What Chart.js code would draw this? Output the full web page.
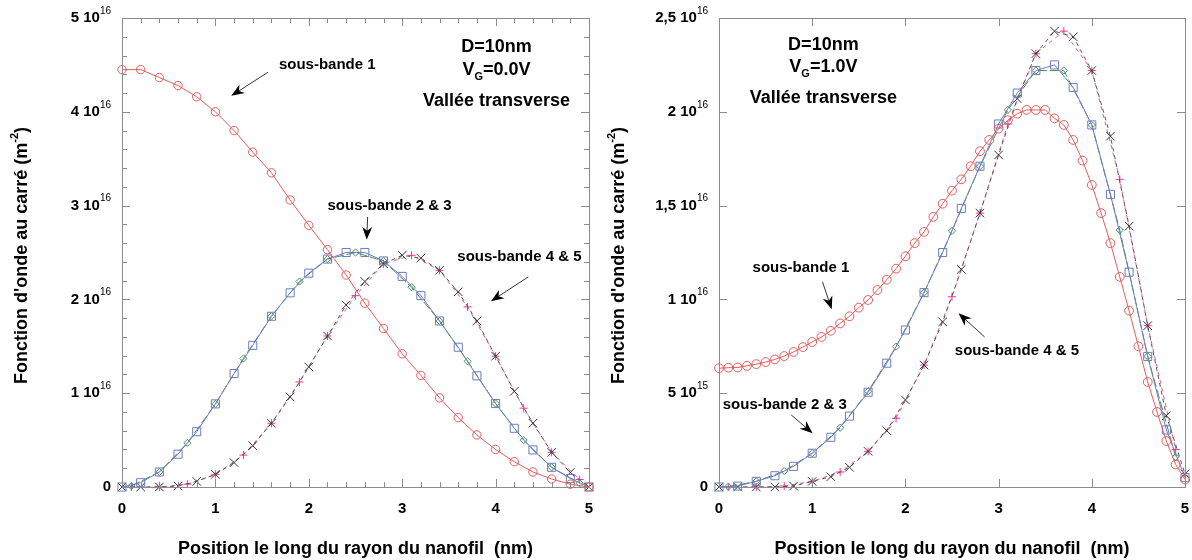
<!DOCTYPE html>
<html>
<head>
<meta charset="utf-8">
<script src="https://cdn.jsdelivr.net/npm/chart.js@4.4.0/dist/chart.umd.min.js"></script>
<style>
  html, body { margin: 0; padding: 0; background: #fff; }
  .panel { position: absolute; top: 0; width: 596px; height: 560px; }
</style>
</head>
<body>
<div class="panel" style="left:0"><canvas id="chart-vg0" width="596" height="560"></canvas></div>
<div class="panel" style="left:596px"><canvas id="chart-vg1" width="596" height="560"></canvas></div>
<script>
/** Positions along the radius (nm) */
const xStep01 = [0, 0.1, 0.2, 0.3, 0.4, 0.5, 0.6, 0.7, 0.8, 0.9, 1, 1.1, 1.2, 1.3, 1.4, 1.5, 1.6, 1.7, 1.8, 1.9,
  2, 2.1, 2.2, 2.3, 2.4, 2.5, 2.6, 2.7, 2.8, 2.9, 3, 3.1, 3.2, 3.3, 3.4, 3.5, 3.6, 3.7, 3.8, 3.9,
  4, 4.1, 4.2, 4.3, 4.4, 4.5, 4.6, 4.7, 4.8, 4.9, 5];
const xStep02 = [0, 0.2, 0.4, 0.6, 0.8, 1, 1.2, 1.4, 1.6, 1.8, 2, 2.2, 2.4, 2.6, 2.8, 3, 3.2, 3.4, 3.6, 3.8,
  4, 4.2, 4.4, 4.6, 4.8, 5];
const xStep03 = [0.1, 0.4, 0.7, 1, 1.3, 1.6, 1.9, 2.2, 2.5, 2.8, 3.1, 3.4, 3.7, 4, 4.3, 4.6, 4.9];

/** VG = 0.0 V, squared wave function in units of 1e16 m^-2 */
const vg0Band1 = [4.45, 4.45, 4.365, 4.28, 4.16, 4.0, 3.80, 3.57, 3.35, 3.06, 2.79, 2.53, 2.26, 1.96, 1.69,
  1.42, 1.19, 0.95, 0.74, 0.555, 0.40, 0.27, 0.16, 0.085, 0.03, 0];
const vg0Band2 = [0, 0.046, 0.16, 0.35, 0.59, 0.886, 1.21, 1.51, 1.82, 2.07, 2.28, 2.43, 2.50, 2.50, 2.41,
  2.245, 2.04, 1.77, 1.49, 1.185, 0.89, 0.626, 0.395, 0.21, 0.09, 0];
const vg0Band3 = [0.01, 0.16, 0.47, 0.886, 1.37, 1.82, 2.19, 2.43, 2.50, 2.41, 2.13, 1.77, 1.34, 0.89, 0.50,
  0.21, 0.04];
const vg0Band4 = [0, 0, 0, 0.01, 0.06, 0.135, 0.26, 0.44, 0.68, 0.96, 1.28, 1.61, 1.94, 2.19, 2.38, 2.47,
  2.44, 2.31, 2.08, 1.77, 1.395, 1.02, 0.68, 0.37, 0.155, 0];
const vg0Band5 = [0, 0, 0.03, 0.135, 0.34, 0.68, 1.12, 1.61, 2.04, 2.38, 2.47, 2.31, 1.92, 1.395, 0.84,
  0.37, 0.08];

/** VG = 1.0 V, squared wave function in units of 1e16 m^-2 */
const vg1Band1 = [0.633, 0.636, 0.637, 0.646, 0.655, 0.666, 0.68, 0.698, 0.72, 0.746, 0.773, 0.80, 0.833,
  0.872, 0.91, 0.956, 0.997, 1.05, 1.105, 1.164, 1.23, 1.30, 1.36, 1.44, 1.51, 1.58, 1.64, 1.71, 1.79,
  1.85, 1.91, 1.955, 1.99, 2.01, 2.01, 2.01, 1.965, 1.93, 1.85, 1.74, 1.61, 1.46, 1.30, 1.12, 0.94, 0.75,
  0.56, 0.40, 0.245, 0.12, 0.04];
const vg1Band2 = [0, 0.005, 0.03, 0.06, 0.11, 0.18, 0.265, 0.378, 0.505, 0.66, 0.837, 1.036, 1.25, 1.485,
  1.71, 1.935, 2.10, 2.22, 2.25, 2.13, 1.93, 1.56, 1.145, 0.696, 0.304, 0.05];
const vg1Band3 = [0.002, 0.03, 0.085, 0.18, 0.316, 0.51, 0.748, 1.036, 1.365, 1.71, 2.01, 2.22, 2.22, 1.93,
  1.37, 0.696, 0.16];
const vg1Band4 = [0, 0, 0, 0, 0.005, 0.03, 0.055, 0.105, 0.19, 0.30, 0.464, 0.65, 0.88, 1.16, 1.46, 1.77,
  2.07, 2.31, 2.43, 2.40, 2.22, 1.87, 1.39, 0.86, 0.38, 0.07];
const vg1Band5 = [0, 0, 0.005, 0.03, 0.08, 0.19, 0.366, 0.65, 1.014, 1.46, 1.935, 2.31, 2.43, 2.22, 1.64,
  0.86, 0.20];

/** Tick values and labels ('^' marks the exponent) */
const xTickValues = [0, 1, 2, 3, 4, 5];
const xTickLabels = ['0', '1', '2', '3', '4', '5'];
const vg0YTickValues = [0, 1, 2, 3, 4, 5];
const vg0YTickLabels = ['0', '1 10^16', '2 10^16', '3 10^16', '4 10^16', '5 10^16'];
const vg1YTickValues = [0, 0.5, 1, 1.5, 2, 2.5];
const vg1YTickLabels = ['0', '5 10^15', '1 10^16', '1,5 10^16', '2 10^16', '2,5 10^16'];

const FONT = '"Liberation Sans", Arial, Helvetica, sans-serif';
const bold = (size) => `bold ${size}px ${FONT}`;

/** Draw a row of text pieces (different fonts / vertical offsets) */
const drawRich = (ctx, parts, x, y, align) => {
  let total = 0;
  parts.forEach(p => {
    ctx.font = p.font;
    p.w = ctx.measureText(p.text).width;
    total += p.w;
  });
  let cx = align === 'right' ? x - total : (align === 'center' ? x - total / 2 : x);
  ctx.textAlign = 'left';
  ctx.textBaseline = 'middle';
  parts.forEach(p => {
    ctx.font = p.font;
    ctx.fillText(p.text, cx, y + (p.dy || 0));
    cx += p.w;
  });
};

const powerParts = (label) => {
  const [base, exp] = label.split('^');
  const parts = [{text: base, font: bold(15)}];
  if (exp) parts.push({text: exp, font: `10px ${FONT}`, dy: -7});
  return parts;
};

const drawArrow = (ctx, x1, y1, x2, y2) => {
  const ang = Math.atan2(y2 - y1, x2 - x1);
  const len = 13, half = 5;
  ctx.strokeStyle = '#333';
  ctx.lineWidth = 1;
  ctx.beginPath();
  ctx.moveTo(x1, y1);
  ctx.lineTo(x2 - Math.cos(ang) * len * 0.6, y2 - Math.sin(ang) * len * 0.6);
  ctx.stroke();
  ctx.save();
  ctx.translate(x2, y2);
  ctx.rotate(ang);
  ctx.fillStyle = '#000';
  ctx.beginPath();
  ctx.moveTo(0, 0);
  ctx.lineTo(-len, -half);
  ctx.lineTo(-len * 0.7, 0);
  ctx.lineTo(-len, half);
  ctx.closePath();
  ctx.fill();
  ctx.restore();
};

/** Plugin: frame, inward ticks, labels, titles and annotations */
const framePlugin = {
  id: 'frame',
  afterDatasetsDraw(chart, args, opts) {
    const {ctx, chartArea: a, scales: {x, y}} = chart;
    ctx.save();
    ctx.strokeStyle = '#8c8c8c';
    ctx.lineWidth = 1;
    ctx.strokeRect(a.left + 0.5, a.top + 0.5, a.right - a.left, a.bottom - a.top);

    const tick = (px, horizontal, len) => {
      ctx.beginPath();
      if (horizontal) {
        const p = Math.round(px) + 0.5;
        ctx.moveTo(p, a.bottom); ctx.lineTo(p, a.bottom - len);
        ctx.moveTo(p, a.top); ctx.lineTo(p, a.top + len);
      } else {
        const p = Math.round(px) + 0.5;
        ctx.moveTo(a.left, p); ctx.lineTo(a.left + len, p);
        ctx.moveTo(a.right, p); ctx.lineTo(a.right - len, p);
      }
      ctx.stroke();
    };
    if (opts.minorX) {
      for (let v = x.min; v <= x.max + 1e-9; v += opts.minorX) tick(x.getPixelForValue(v), true, 5);
    }
    if (opts.minorY) {
      for (let v = y.min; v <= y.max + 1e-9; v += opts.minorY) tick(y.getPixelForValue(v), false, 5);
    }
    opts.xTicks.forEach(v => tick(x.getPixelForValue(v), true, 8));
    opts.yTicks.forEach(v => tick(y.getPixelForValue(v), false, 8));

    ctx.fillStyle = '#000';
    opts.xTicks.forEach((v, i) => {
      drawRich(ctx, [{text: opts.xLabels[i], font: bold(15)}], x.getPixelForValue(v), a.bottom + 22, 'center');
    });
    opts.yTicks.forEach((v, i) => {
      drawRich(ctx, powerParts(opts.yLabels[i]), a.left - 11, y.getPixelForValue(v), 'right');
    });

    // axis titles
    drawRich(ctx, [{text: 'Position le long du rayon du nanofil  (nm)', font: bold(18)}],
      (a.left + a.right) / 2, a.bottom + 62, 'center');
    ctx.save();
    ctx.translate(a.left - 100, (a.top + a.bottom) / 2 + 3);
    ctx.rotate(-Math.PI / 2);
    drawRich(ctx, [
      {text: 'Fonction d\'onde au carré (m', font: bold(18)},
      {text: '-2', font: bold(11), dy: -7},
      {text: ')', font: bold(18)},
    ], 0, 0, 'center');
    ctx.restore();

    // annotations
    opts.notes.forEach(n => {
      drawRich(ctx, n.parts, x.getPixelForValue(n.x), y.getPixelForValue(n.y), n.align);
    });
    opts.arrows.forEach(ar => {
      drawArrow(ctx, x.getPixelForValue(ar[0]), y.getPixelForValue(ar[1]),
        x.getPixelForValue(ar[2]), y.getPixelForValue(ar[3]));
    });
    ctx.restore();
  }
};

const makeSeries = (xs, ys, style) => Object.assign({
  data: xs.map((v, i) => ({x: v, y: ys[i]})),
  showLine: true,
  borderWidth: 1,
  pointBorderWidth: 1,
  pointBackgroundColor: 'rgba(0,0,0,0)',
  clip: false,
}, style);

const bandStyles = {
  band1: {borderColor: '#e45c5c', pointBorderColor: '#e45c5c', pointStyle: 'circle'},
  band2: {borderColor: '#6c7cc0', pointBorderColor: '#6c7cc0', pointStyle: 'rect', pointRadius: 5.7},
  band3: {borderColor: '#4b8a5e', pointBorderColor: '#4b8a5e', pointStyle: 'rectRot', pointRadius: 3.6, borderDash: [9, 3]},
  band4: {borderColor: '#555555', pointBorderColor: '#333333', pointStyle: 'crossRot', pointRadius: 6, borderDash: [4, 4]},
  band5: {borderColor: '#e8559e', pointBorderColor: '#f0359a', pointStyle: 'cross', pointRadius: 4, borderDash: [4, 4]},
};

const vTitle = (vg) => [
  {text: 'V', font: bold(18)},
  {text: 'G', font: bold(11), dy: 7},
  {text: '=' + vg, font: bold(18)},
];

const createChart = (canvasId, series, yMax, frameOpts, padRight, padLeft) => {
  new Chart(document.getElementById(canvasId), {
    type: 'scatter',
    data: {datasets: series},
    plugins: [framePlugin],
    options: {
      responsive: false,
      animation: false,
      layout: {padding: {left: padLeft, right: padRight, top: 18, bottom: 73}},
      scales: {
        x: {type: 'linear', min: 0, max: 5, display: false},
        y: {type: 'linear', min: 0, max: yMax, display: false},
      },
      plugins: {
        legend: {display: false},
        tooltip: {enabled: false},
        frame: frameOpts,
      },
    },
  });
};

createChart('chart-vg0', [
  makeSeries(xStep02, vg0Band1, Object.assign({pointRadius: 4.2}, bandStyles.band1)),
  makeSeries(xStep02, vg0Band2, bandStyles.band2),
  makeSeries(xStep03, vg0Band3, bandStyles.band3),
  makeSeries(xStep02, vg0Band4, bandStyles.band4),
  makeSeries(xStep03, vg0Band5, bandStyles.band5),
], 5, {
  xTicks: xTickValues, xLabels: xTickLabels,
  yTicks: vg0YTickValues, yLabels: vg0YTickLabels,
  minorX: 0.2, minorY: 0.2,
  notes: [
    {parts: [{text: 'D=10nm', font: bold(18)}], x: 4.01, y: 4.69, align: 'center'},
    {parts: vTitle('0.0V'), x: 4.01, y: 4.45, align: 'center'},
    {parts: [{text: 'Vallée transverse', font: bold(18)}], x: 4.01, y: 4.12, align: 'center'},
    {parts: [{text: 'sous-bande 1', font: bold(15)}], x: 1.68, y: 4.50, align: 'left'},
    {parts: [{text: 'sous-bande 2 & 3', font: bold(15)}], x: 2.2, y: 3.0, align: 'left'},
    {parts: [{text: 'sous-bande 4 & 5', font: bold(15)}], x: 3.59, y: 2.45, align: 'left'},
  ],
  arrows: [
    [1.56, 4.42, 1.17, 4.17],
    [2.63, 2.88, 2.62, 2.635],
    [4.35, 2.24, 3.95, 1.98],
  ],
}, 5, 122);

createChart('chart-vg1', [
  makeSeries(xStep01, vg1Band1, Object.assign({pointRadius: 4.4}, bandStyles.band1)),
  makeSeries(xStep02, vg1Band2, bandStyles.band2),
  makeSeries(xStep03, vg1Band3, bandStyles.band3),
  makeSeries(xStep02, vg1Band4, bandStyles.band4),
  makeSeries(xStep03, vg1Band5, bandStyles.band5),
], 2.5, {
  xTicks: xTickValues, xLabels: xTickLabels,
  yTicks: vg1YTickValues, yLabels: vg1YTickLabels,
  notes: [
    {parts: [{text: 'D=10nm', font: bold(18)}], x: 1.12, y: 2.355, align: 'center'},
    {parts: vTitle('1.0V'), x: 1.12, y: 2.24, align: 'center'},
    {parts: [{text: 'Vallée transverse', font: bold(18)}], x: 1.12, y: 2.076, align: 'center'},
    {parts: [{text: 'sous-bande 1', font: bold(15)}], x: 0.36, y: 1.166, align: 'left'},
    {parts: [{text: 'sous-bande 2 & 3', font: bold(15)}], x: 0.04, y: 0.437, align: 'left'},
    {parts: [{text: 'sous-bande 4 & 5', font: bold(15)}], x: 2.53, y: 0.727, align: 'left'},
  ],
  arrows: [
    [1.11, 1.094, 1.21, 0.947],
    [0.775, 0.384, 1.005, 0.286],
    [2.85, 0.80, 2.57, 0.926],
  ],
}, 4, 123);
</script>
</body>
</html>
